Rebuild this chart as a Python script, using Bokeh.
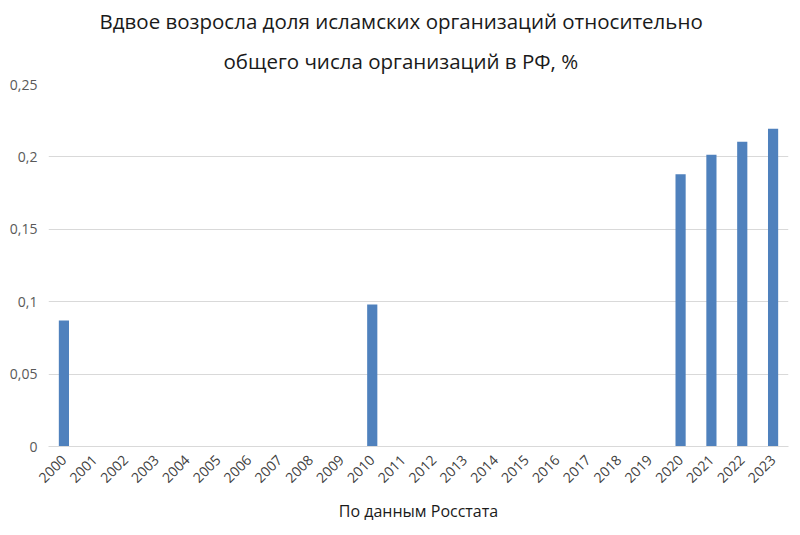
import math
from bokeh.plotting import figure
from bokeh.models import ColumnDataSource, FixedTicker, Title
from bokeh.embed import file_html
from bokeh.resources import INLINE

years = [str(y) for y in range(2000, 2024)]
shares = [0.087, 0, 0, 0, 0, 0, 0, 0, 0, 0, 0.098, 0, 0, 0, 0, 0, 0, 0, 0, 0,
          0.188, 0.2015, 0.2105, 0.2195]
y_ticks = [0, 0.05, 0.1, 0.15, 0.2, 0.25]
y_tick_labels = ["0", "0,05", "0,1", "0,15", "0,2", "0,25"]
title_lines = ["Вдвое возросла доля исламских организаций относительно",
               "общего числа организаций в РФ, %"]
x_title = "По данным Росстата"

FONT = "Open Sans"
src = ColumnDataSource(dict(year=years, share=shares))

p = figure(x_range=years, y_range=(0, 0.25), width=800, height=535,
           output_backend="svg", toolbar_location=None,
           min_border_left=48, min_border_right=12, min_border_top=84,
           min_border_bottom=89, outline_line_color=None)

p.vbar(x="year", top="share", width=0.33, source=src,
       fill_color="#4f81bd", line_color=None)

offsets = [51, 175]
standoffs = [0, 20]
for line, off, so in reversed(list(zip(title_lines, offsets, standoffs))):
    t = Title(text=line, align="left", text_font=FONT, text_font_size="20.5px",
              text_font_style="normal", text_color="#1a1a1a", offset=off,
              standoff=so)
    p.add_layout(t, "above")

p.yaxis.ticker = FixedTicker(ticks=y_ticks)
p.yaxis.major_label_overrides = {t: l for t, l in zip(y_ticks, y_tick_labels)}
p.yaxis.axis_line_color = None
p.yaxis.major_tick_line_color = None
p.yaxis.minor_tick_line_color = None
p.yaxis.major_label_text_font = FONT
p.yaxis.major_label_text_font_size = "14px"
p.yaxis.major_label_text_color = "#595959"

p.xaxis.axis_line_color = "#d9d9d9"
p.xaxis.major_tick_line_color = None
p.xaxis.major_label_orientation = math.pi / 4
p.xaxis.major_label_text_font = FONT
p.xaxis.major_label_text_font_size = "14px"
p.xaxis.major_label_text_color = "#404040"
p.xaxis.axis_label = x_title
p.xaxis.axis_label_text_font = FONT
p.xaxis.axis_label_text_font_size = "16px"
p.xaxis.axis_label_text_font_style = "normal"
p.xaxis.axis_label_text_color = "#1a1a1a"
p.xaxis.axis_label_standoff = 10

p.xgrid.grid_line_color = None
p.ygrid.grid_line_color = "#d9d9d9"
p.x_range.range_padding = 0

open("out.html", "w").write(file_html(p, INLINE))
